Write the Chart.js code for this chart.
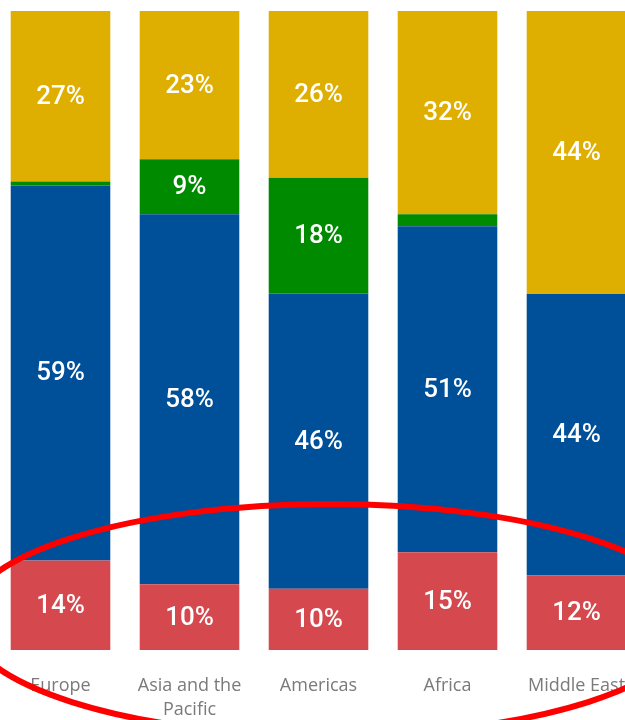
<!DOCTYPE html>
<html>
<head>
<meta charset="utf-8">
<script src="https://cdn.jsdelivr.net/npm/chart.js@4.4.1/dist/chart.umd.min.js"></script>
<style>
  html, body { margin: 0; padding: 0; background: #ffffff; overflow: hidden; width: 625px; height: 720px; }
  #wrap { position: absolute; left: -4px; top: 0; width: 648px; height: 720px; }
</style>
</head>
<body>
<div id="wrap"><canvas id="c"></canvas></div>
<script>
// Categories (regions)
const categories = ['Europe', 'Asia and the Pacific', 'Americas', 'Africa', 'Middle East'];
// Share of each segment, percent (bottom to top)
const redSeries    = [14.0, 10.3,  9.6, 15.3, 11.7];
const blueSeries   = [58.7, 57.9, 46.2, 51.0, 44.0];
const greenSeries  = [ 0.6,  8.6, 18.1,  1.9,  0.0];
const yellowSeries = [26.7, 23.2, 26.1, 31.8, 44.3];
const seriesNames  = ['Red', 'Blue', 'Green', 'Yellow'];

const colors = ['#D4484E', '#004F99', '#008A00', '#DEAF00'];

const labelPlugin = {
  id: 'segLabels',
  afterDatasetsDraw(chart) {
    const ctx = chart.ctx;
    ctx.save();
    ctx.fillStyle = '#ffffff';
    ctx.font = '500 26px Roboto, "Liberation Sans", sans-serif';
    ctx.textAlign = 'center';
    ctx.textBaseline = 'middle';
    chart.data.datasets.forEach((ds, i) => {
      const meta = chart.getDatasetMeta(i);
      meta.data.forEach((el, j) => {
        const v = ds.data[j];
        if (v < 5) return;
        const y = (el.y + el.base) / 2;
        ctx.fillText(Math.round(v) + '%', el.x, y + 1);
      });
    });
    ctx.restore();
  }
};

const ellipsePlugin = {
  id: 'ellipse',
  afterDraw(chart) {
    const ctx = chart.ctx;
    ctx.save();
    ctx.strokeStyle = '#FF0000';
    ctx.lineWidth = 6;
    ctx.beginPath();
    ctx.ellipse(334, 620, 365, 116, 0, 0, Math.PI * 2);
    ctx.stroke();
    ctx.restore();
  }
};

new Chart(document.getElementById('c'), {
  type: 'bar',
  data: {
    labels: categories,
    datasets: [redSeries, blueSeries, greenSeries, yellowSeries].map((d, i) => ({
      label: seriesNames[i],
      data: d,
      backgroundColor: colors[i],
      borderWidth: 0,
      categoryPercentage: 1.0,
      barPercentage: 0.772
    }))
  },
  options: {
    responsive: true,
    maintainAspectRatio: false,
    animation: false,
    layout: { padding: { left: 0, right: 3, top: 11, bottom: 0 } },
    plugins: { legend: { display: false }, tooltip: { enabled: false } },
    scales: {
      x: {
        stacked: true,
        grid: { display: false, drawTicks: false },
        border: { display: false },
        ticks: {
          color: '#7a7a7a',
          font: { family: '"Open Sans", sans-serif', size: 18, lineHeight: 1.34 },
          padding: 24,
          autoSkip: false,
          maxRotation: 0,
          callback(value) {
            const l = this.getLabelForValue(value);
            if (l.length > 14) {
              const idx = l.lastIndexOf(' ');
              return [l.slice(0, idx), l.slice(idx + 1)];
            }
            return l;
          }
        },
        afterFit(scale) {
          scale.height = 70;
          scale.paddingLeft = 0;
          scale.paddingRight = 0;
        }
      },
      y: {
        stacked: true,
        display: false,
        min: 0,
        max: 100
      }
    }
  },
  plugins: [labelPlugin, ellipsePlugin]
});
</script>
</body>
</html>
